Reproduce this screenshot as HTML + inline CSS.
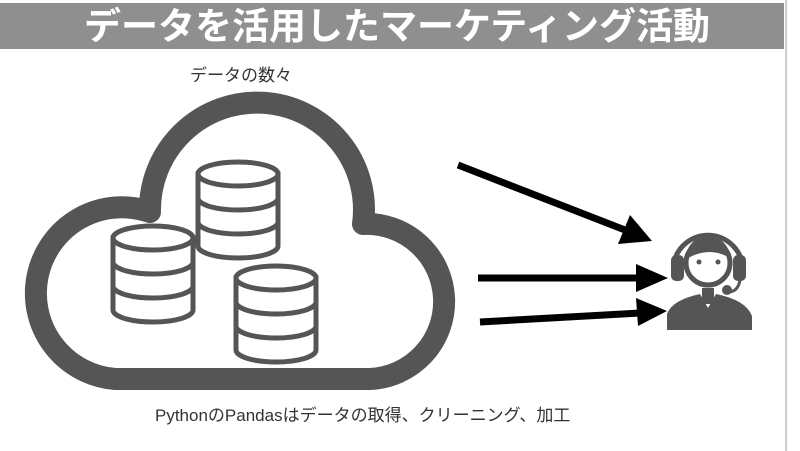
<!DOCTYPE html>
<html><head><meta charset="utf-8"><style>
body{margin:0;width:800px;height:451px;background:#fff;overflow:hidden;font-family:"Liberation Sans","Noto Sans CJK JP",sans-serif}
</style></head><body>
<svg width="800" height="451" viewBox="0 0 800 451" xmlns="http://www.w3.org/2000/svg" style="position:absolute;left:0;top:0">
<rect x="0" y="0" width="800" height="451" fill="#fff"/>
<rect x="0" y="3" width="784" height="46" fill="#8f8f8f"/>
<line x1="786" y1="0" x2="786" y2="451" stroke="#ccc" stroke-width="2"/>
<text x="397" y="39" text-anchor="middle" font-size="37" font-weight="bold" fill="#fff" font-family="Liberation Sans,Noto Sans CJK JP,sans-serif">データを活用したマーケティング活動</text>
<text x="190" y="81" font-size="17" fill="#333" font-family="Liberation Sans,Noto Sans CJK JP,sans-serif">データの数々</text>
<path d="M115,379 A86,86 0 1 1 150,212 A107,107 0 1 1 363,224 A77,77 0 1 1 370,379 Z" fill="#fff" stroke="#555" stroke-width="22" stroke-linejoin="round"/>
<g fill="#fff" stroke="#555" stroke-width="5">
 <g transform="translate(198,160)">
  <path d="M0,14 L0,86 A40,12 0 0 0 80,86 L80,14 Z"/>
  <ellipse cx="40" cy="14" rx="40" ry="12"/>
  <path d="M0,38 A40,12 0 0 0 80,38 M0,62 A40,12 0 0 0 80,62" fill="none"/>
 </g>
 <g transform="translate(113,224)">
  <path d="M0,14 L0,86 A40,12 0 0 0 80,86 L80,14 Z"/>
  <ellipse cx="40" cy="14" rx="40" ry="12"/>
  <path d="M0,38 A40,12 0 0 0 80,38 M0,62 A40,12 0 0 0 80,62" fill="none"/>
 </g>
 <g transform="translate(236,264)">
  <path d="M0,14 L0,86 A40,12 0 0 0 80,86 L80,14 Z"/>
  <ellipse cx="40" cy="14" rx="40" ry="12"/>
  <path d="M0,38 A40,12 0 0 0 80,38 M0,62 A40,12 0 0 0 80,62" fill="none"/>
 </g>
</g>
<g stroke="#000" stroke-width="7" fill="#000">
 <line x1="458" y1="165" x2="625" y2="230"/>
 <polygon points="652,241 618,244 630,215" stroke="none"/>
 <line x1="478" y1="278" x2="640" y2="278"/>
 <polygon points="668,278 636,264 636,292" stroke="none"/>
 <line x1="480" y1="322" x2="640" y2="313"/>
 <polygon points="667,311 636,298 638,326" stroke="none"/>
</g>
<g fill="#555">
 <path d="M674,262 A35,35 0 0 1 742,262" fill="none" stroke="#555" stroke-width="5"/>
 <rect x="671" y="255" width="13" height="26" rx="5"/>
 <rect x="733" y="255" width="13" height="26" rx="5"/>
 <circle cx="708" cy="263" r="22" fill="none" stroke="#555" stroke-width="5"/>
 <path d="M686,258 A22,22 0 0 1 730,258 Q710,246 688,258 Z"/>
 <circle cx="699" cy="262" r="2.5"/><circle cx="718" cy="262" r="2.5"/>
 <path d="M740,280 Q738,292 728,292" fill="none" stroke="#555" stroke-width="3"/>
 <circle cx="727" cy="290" r="5"/>
 <path d="M667,330 L667,314 Q672,300 700,294 L708,308 L716,294 Q746,300 752,316 L752,330 Z"/>
 <rect x="702" y="288" width="12" height="16" fill="#555"/>
</g>
<text x="155" y="421" font-size="17" fill="#333" font-family="Liberation Sans,Noto Sans CJK JP,sans-serif">PythonのPandasはデータの取得、クリーニング、加工</text>
</svg>
</body></html>
